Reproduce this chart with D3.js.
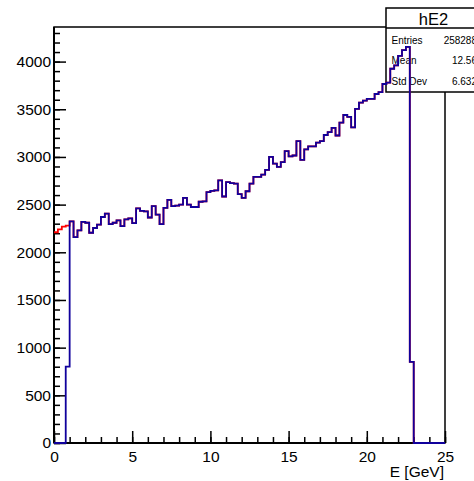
<!DOCTYPE html>
<html>
<head>
<meta charset="utf-8">
<script src="https://cdn.jsdelivr.net/npm/d3@7"></script>
<style>
  html, body { margin: 0; padding: 0; background: #ffffff; }
  svg { display: block; }
  text { font-family: "Liberation Sans", Arial, Helvetica, sans-serif; fill: #000; }
</style>
</head>
<body>
<svg id="c" width="474" height="481"></svg>
<script>
// Histogram hE2: 100 bins of 0.25 GeV over [0, 25]
const xRange = [0, 25];
const nBins = 100;

// Counts of the selected sample (blue)
const countsSel = [
  0, 0, 0, 800, 2325, 2160, 2230, 2320, 2310, 2205,
  2255, 2290, 2370, 2405, 2295, 2310, 2335, 2275, 2345, 2355,
  2305, 2460, 2435, 2430, 2365, 2485, 2395, 2295, 2465, 2550,
  2485, 2490, 2500, 2570, 2500, 2475, 2475, 2530, 2535, 2630,
  2645, 2650, 2755, 2585, 2735, 2725, 2720, 2610, 2570, 2640,
  2720, 2790, 2790, 2815, 2865, 3000, 2930, 2895, 2945, 3060,
  3005, 3015, 3165, 2970, 3080, 3110, 3110, 3150, 3165, 3230,
  3260, 3305, 3225, 3360, 3440, 3420, 3310, 3505, 3570, 3590,
  3610, 3610, 3660, 3680, 3765, 3780, 3925, 3960, 4060, 4120,
  4155, 850, 0, 0, 0, 0, 0, 0, 0, 0
];

// Counts of the full sample (red), differs only below 1 GeV
const countsAll = [
  2210, 2240, 2270, 2280, 2325, 2160, 2230, 2320, 2310, 2205,
  2255, 2290, 2370, 2405, 2295, 2310, 2335, 2275, 2345, 2355,
  2305, 2460, 2435, 2430, 2365, 2485, 2395, 2295, 2465, 2550,
  2485, 2490, 2500, 2570, 2500, 2475, 2475, 2530, 2535, 2630,
  2645, 2650, 2755, 2585, 2735, 2725, 2720, 2610, 2570, 2640,
  2720, 2790, 2790, 2815, 2865, 3000, 2930, 2895, 2945, 3060,
  3005, 3015, 3165, 2970, 3080, 3110, 3110, 3150, 3165, 3230,
  3260, 3305, 3225, 3360, 3440, 3420, 3310, 3505, 3570, 3590,
  3610, 3610, 3660, 3680, 3765, 3780, 3925, 3960, 4060, 4120,
  4155, 850, 0, 0, 0, 0, 0, 0, 0, 0
];

const xMajorTicks = [0, 5, 10, 15, 20, 25];
const yMajorTicks = [0, 500, 1000, 1500, 2000, 2500, 3000, 3500, 4000];
const xTitle = "E [GeV]";

const statTitle = "hE2";
const statNames = ["Entries", "Mean", "Std Dev"];
const statValues = ["258288", "12.56", "6.632"];

// ---- layout ----
const frame = { left: 54, right: 445, top: 27, bottom: 443 };
const svg = d3.select("#c");

const yMax = 1.05 * d3.max(countsSel);
const x = d3.scaleLinear().domain(xRange).range([frame.left, frame.right]);
const y = d3.scaleLinear().domain([0, yMax]).range([frame.bottom, frame.top]);

const xMinorTicks = d3.range(xRange[0], xRange[1] + 0.001, 1);
const yMinorTicks = d3.range(0, yMax, 100);

// ---- frame ----
svg.append("rect")
  .attr("x", frame.left).attr("y", frame.top)
  .attr("width", frame.right - frame.left).attr("height", frame.bottom - frame.top)
  .attr("fill", "none").attr("stroke", "#000").attr("stroke-width", 1.5);

// ---- axes (ticks point inward) ----
function styleAxis(g) {
  g.select(".domain").remove();
  g.selectAll(".tick line").attr("stroke", "#000").attr("stroke-width", 1.5);
}

svg.append("g")
  .attr("transform", `translate(${frame.left},0)`)
  .call(d3.axisLeft(y).tickValues(yMinorTicks).tickSize(-6).tickFormat(""))
  .call(styleAxis);

const yAx = svg.append("g")
  .attr("transform", `translate(${frame.left},0)`)
  .call(d3.axisLeft(y).tickValues(yMajorTicks).tickSize(-12).tickPadding(3).tickFormat(d3.format("d")))
  .call(styleAxis);
yAx.selectAll(".tick text").attr("font-size", 15.5).attr("font-family", "Liberation Sans, Arial, sans-serif");

svg.append("g")
  .attr("transform", `translate(0,${frame.bottom})`)
  .call(d3.axisBottom(x).tickValues(xMinorTicks).tickSize(-6).tickFormat(""))
  .call(styleAxis);

const xAx = svg.append("g")
  .attr("transform", `translate(0,${frame.bottom})`)
  .call(d3.axisBottom(x).tickValues(xMajorTicks).tickSize(-12).tickPadding(8).tickFormat(d3.format("d")))
  .call(styleAxis);
xAx.selectAll(".tick text").attr("font-size", 15.5).attr("font-family", "Liberation Sans, Arial, sans-serif");

// thicker axis lines along left and bottom
svg.append("line")
  .attr("x1", frame.left).attr("x2", frame.left)
  .attr("y1", frame.top).attr("y2", frame.bottom)
  .attr("stroke", "#000").attr("stroke-width", 2);
svg.append("line")
  .attr("x1", frame.left).attr("x2", frame.right)
  .attr("y1", frame.bottom).attr("y2", frame.bottom)
  .attr("stroke", "#000").attr("stroke-width", 2);

svg.append("text")
  .attr("x", frame.right - 1).attr("y", 476.5)
  .attr("text-anchor", "end")
  .attr("font-size", 15.5)
  .text(xTitle);

// ---- statistics box ----
const box = { x0: 386, x1: 481, y0: 8, ySep: 28, y1: 92 };
const stat = svg.append("g");
stat.append("rect")
  .attr("x", box.x0).attr("y", box.y0)
  .attr("width", box.x1 - box.x0).attr("height", box.y1 - box.y0)
  .attr("fill", "#fff").attr("stroke", "#000").attr("stroke-width", 1.5);
stat.append("line")
  .attr("x1", box.x0).attr("x2", box.x1)
  .attr("y1", box.ySep).attr("y2", box.ySep)
  .attr("stroke", "#000").attr("stroke-width", 1.5);
stat.append("text")
  .attr("x", (box.x0 + box.x1) / 2).attr("y", 25)
  .attr("text-anchor", "middle")
  .attr("font-size", 16.5)
  .text(statTitle);
const rowY = d3.scalePoint().domain(statNames).range([43.5, 84.5]);
stat.selectAll("text.sn").data(statNames).join("text")
  .attr("class", "sn")
  .attr("x", box.x0 + 5.5).attr("y", d => rowY(d))
  .attr("font-size", 10)
  .text(d => d);
stat.selectAll("text.sv").data(statNames).join("text")
  .attr("class", "sv")
  .attr("x", box.x1 - 4).attr("y", d => rowY(d))
  .attr("text-anchor", "end")
  .attr("font-size", 10)
  .text((d, i) => statValues[i]);

// ---- histograms ----
const binW = (xRange[1] - xRange[0]) / nBins;
function stepPoints(counts) {
  const pts = counts.map((c, i) => [xRange[0] + i * binW, c]);
  pts.push([xRange[1], counts[counts.length - 1]]);
  return pts;
}
const line = d3.line()
  .x(d => x(d[0]))
  .y(d => y(d[1]))
  .curve(d3.curveStepAfter);

svg.append("path")
  .attr("d", line(stepPoints(countsAll)))
  .attr("fill", "none")
  .attr("stroke", "#ff0000")
  .attr("stroke-width", 1.8);

svg.append("path")
  .attr("d", line(stepPoints(countsSel)))
  .attr("fill", "none")
  .attr("stroke", "#10009c")
  .attr("stroke-width", 1.8);
</script>
</body>
</html>
